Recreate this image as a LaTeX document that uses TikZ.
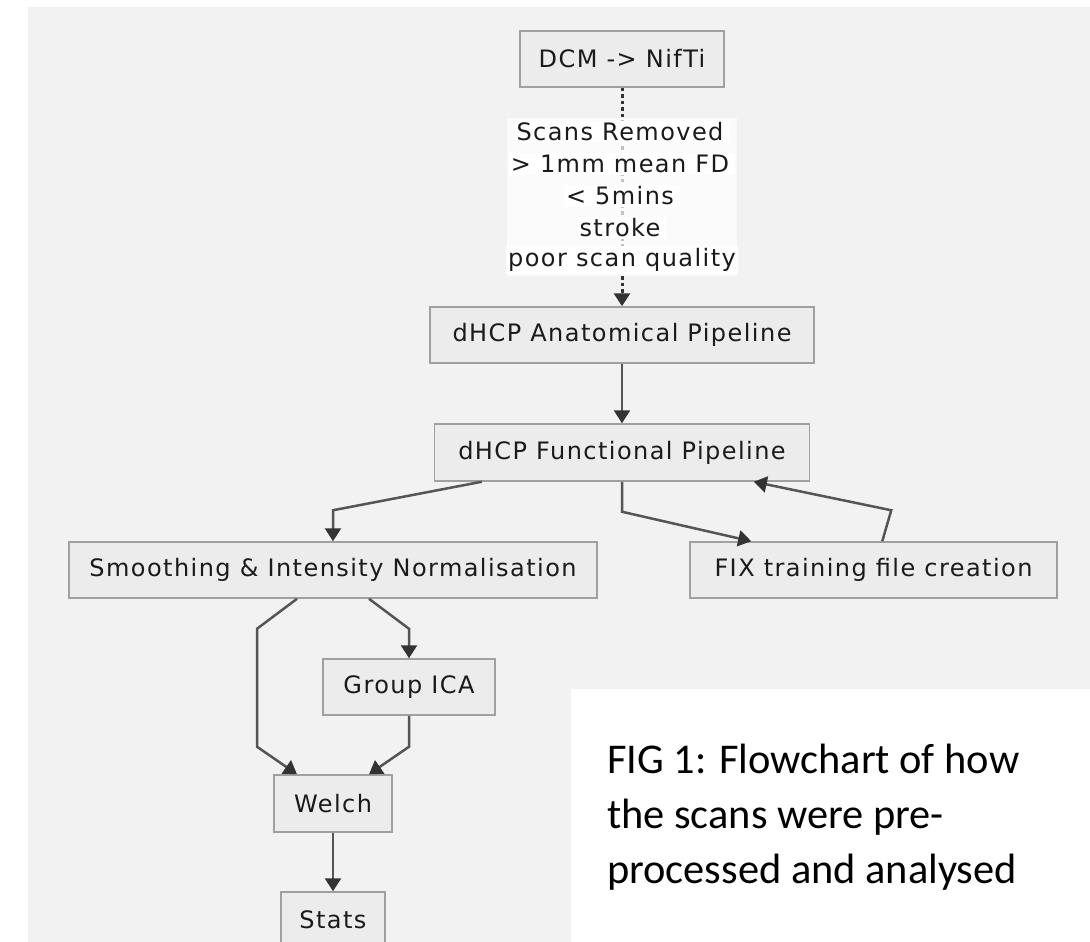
\documentclass[tikz,border=0pt]{standalone}
\usepackage{fontspec}
\setmainfont{DejaVu Sans}
\newfontfamily\capfont{Carlito}
\newfontfamily\nodefont{DejaVu Sans}[LetterSpace=6]
\usetikzlibrary{arrows.meta,calc}
\definecolor{bggrey}{HTML}{F2F2F2}
\definecolor{nodefill}{HTML}{ECECEC}
\definecolor{nodeborder}{HTML}{A0A0A0}
\definecolor{linecol}{HTML}{555555}
\definecolor{tipcol}{HTML}{333333}
\definecolor{txtcol}{HTML}{1A1A1A}
\begin{document}
\begin{tikzpicture}[x=1pt,y=-1pt,
  box/.style={draw=nodeborder, fill=nodefill, line width=1.5pt, inner sep=0pt,
    font=\nodefont\fontsize{24}{28}\selectfont, text=txtcol},
  conn/.style={draw=linecol, line width=2.5pt,
    -{Triangle[length=13pt,width=16pt,fill=tipcol,color=tipcol]}},
  dotconn/.style={draw=tipcol, line width=3pt, dash pattern=on 3.5pt off 3pt,
    -{Triangle[length=13pt,width=16pt,fill=tipcol,color=tipcol]}},
  lbl/.style={fill=white, inner xsep=2pt, inner ysep=2pt, text=txtcol,
    font=\nodefont\fontsize{24}{28}\selectfont},
  capt/.style={anchor=base west, inner sep=0pt, text=black,
    font=\capfont\fontsize{42.4}{55}\selectfont}
]
\useasboundingbox (0,0) rectangle (1090,942);
\clip (0,0) rectangle (1090,942);
\fill[bggrey] (28,7) rectangle (1090,942);

% nodes
\node[box, minimum width=204, minimum height=56] (dcm) at (622,59) {DCM -> NifTi};
\node[box, minimum width=384, minimum height=56] (anat) at (622,335) {dHCP Anatomical Pipeline};
\node[box, minimum width=375, minimum height=57] (func) at (622,452.5) {dHCP Functional Pipeline};
\node[box, minimum width=528, minimum height=56] (smooth) at (333,570) {Smoothing \& Intensity Normalisation};
\node[box, minimum width=367, minimum height=56] (fix) at (873.5,570) {FIX training file creation};
\node[box, minimum width=172, minimum height=56] (ica) at (409,687) {Group ICA};
\node[box, minimum width=118, minimum height=57] (welch) at (333,803.5) {Welch};
\node[box, minimum width=104, minimum height=56] (stats) at (333,920) {Stats};

% dotted edge with label
\draw[dotconn] (dcm.south) -- (anat.north);
\node[fill=white, fill opacity=0.7, minimum width=230, minimum height=158, inner sep=0pt] (lblbg) at (622,197) {};
\node[lbl] (l1) at (622,132) {Scans Removed\,};
\node[lbl] (l2) at (622,164) {> 1mm mean FD\,};
\node[lbl] (l3) at (622,196) {< 5mins\,};
\node[lbl] (l4) at (622,228) {stroke\,};
\node[lbl] (l5) at (622,260) {poor scan quality};

% solid edges
\draw[conn] (anat.south) -- (func.north);
\draw[conn] ($(func.south west)+(48,0)$) -- ($(smooth.north)+(0,-31)$) -- (smooth.north);
\draw[conn] (func.south) -- ++(0,30) -- ($(fix.north west)+(62,0)$);
\draw[conn] ($(fix.north west)+(193,0)$) -- ($(fix.north west)+(202,-31)$) -- ($(func.south west)+(320,0)$);
\draw[conn] ($(smooth.south)+(-36,0)$) -- ++(-40,30) -- ++(0,118) -- ($(welch.north)+(-36,0)$);
\draw[conn] ($(smooth.south)+(36,0)$) -- ++(40,30) -- (ica.north);
\draw[conn] (ica.south) -- ++(0,31) -- ($(welch.north)+(36,0)$);
\draw[conn] (welch.south) -- (stats.north);

% caption panel
\fill[white] (571,689) rectangle (1090,942);
\node[capt] (c1) at (607,773) {FIG 1: Flowchart of how};
\node[capt] (c2) at (607,828) {the scans were pre-};
\node[capt] (c3) at (607,883) {processed and analysed};
\end{tikzpicture}
\end{document}
